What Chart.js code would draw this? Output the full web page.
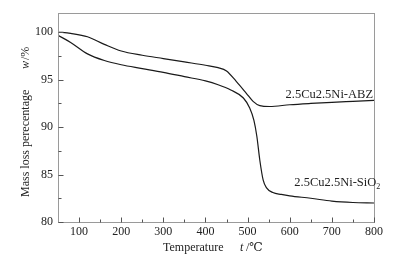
<!DOCTYPE html>
<html>
<head>
<meta charset="utf-8">
<script src="https://cdn.jsdelivr.net/npm/chart.js@4/dist/chart.umd.min.js"></script>
<style>
  html, body { margin: 0; padding: 0; background: #fff; }
  #wrap { width: 407px; height: 262px; }
</style>
</head>
<body>
<div id="wrap"><canvas id="tgChart" width="407" height="262"></canvas></div>
<script>
// temperatures (°C) and weight (%)
const abzTemp = [50, 80, 120, 160, 200, 250, 300, 350, 400, 430, 450, 473, 497, 513, 529, 552, 600, 650, 700, 750, 800];
const abzWt   = [100.0, 99.85, 99.5, 98.7, 98.0, 97.55, 97.2, 96.85, 96.5, 96.25, 95.9, 94.8, 93.55, 92.7, 92.25, 92.16, 92.34, 92.48, 92.6, 92.7, 92.8];

const sioTemp = [50, 80, 120, 160, 200, 250, 300, 350, 400, 430, 460, 490, 505, 515, 522, 529, 537, 545, 560, 580, 600, 650, 700, 750, 800];
const sioWt   = [99.65, 98.9, 97.7, 97.0, 96.55, 96.15, 95.75, 95.3, 94.85, 94.45, 93.9, 93.05, 92.0, 90.7, 89.0, 86.5, 84.4, 83.6, 83.1, 82.9, 82.75, 82.5, 82.2, 82.05, 82.0];

const xTicks = [100, 200, 300, 400, 500, 600, 700, 800];
const xMinor = [150, 250, 350, 450, 550, 650, 750];
const yTicks = [80, 85, 90, 95, 100];
const yMinor = [82.5, 87.5, 92.5, 97.5];

const toPts = (xs, ys) => xs.map((x, i) => ({ x: x, y: ys[i] }));

const serif = "'Liberation Serif', 'DejaVu Serif', serif";

const decor = {
  id: 'decor',
  afterDraw(chart) {
    const ctx = chart.ctx;
    const a = chart.chartArea;
    const xs = chart.scales.x, ys = chart.scales.y;
    ctx.save();
    // frame
    ctx.strokeStyle = '#9a9a9a';
    ctx.lineWidth = 1;
    ctx.strokeRect(Math.round(a.left) + 0.5, Math.round(a.top) + 0.5,
                   Math.round(a.right - a.left), Math.round(a.bottom - a.top));
    // inward ticks
    ctx.strokeStyle = '#555';
    ctx.beginPath();
    const bx = Math.round(a.bottom) + 0.5;
    xTicks.forEach(v => { const p = Math.round(xs.getPixelForValue(v)) + 0.5; ctx.moveTo(p, bx); ctx.lineTo(p, bx - 5); });
    xMinor.forEach(v => { const p = Math.round(xs.getPixelForValue(v)) + 0.5; ctx.moveTo(p, bx); ctx.lineTo(p, bx - 3); });
    const lx = Math.round(a.left) + 0.5;
    yTicks.forEach(v => { const p = Math.round(ys.getPixelForValue(v)) + 0.5; ctx.moveTo(lx, p); ctx.lineTo(lx + 5, p); });
    yMinor.forEach(v => { const p = Math.round(ys.getPixelForValue(v)) + 0.5; ctx.moveTo(lx, p); ctx.lineTo(lx + 3, p); });
    ctx.stroke();

    // curve labels
    ctx.fillStyle = '#222';
    ctx.textBaseline = 'middle';
    ctx.textAlign = 'left';
    ctx.font = '12.5px ' + serif;
    ctx.fillText('2.5Cu2.5Ni-ABZ', xs.getPixelForValue(590), ys.getPixelForValue(93.45));
    const sx = xs.getPixelForValue(611), sy = ys.getPixelForValue(84.1);
    const main = '2.5Cu2.5Ni-SiO';
    ctx.fillText(main, sx, sy);
    const w = ctx.measureText(main).width;
    ctx.font = '8px ' + serif;
    ctx.fillText('2', sx + w, sy + 4);

    // x title
    ctx.font = '12px ' + serif;
    ctx.fillText('Temperature', 163, 248);
    ctx.font = 'italic 12px ' + serif;
    ctx.fillText('t', 240, 248);
    ctx.font = '12px ' + serif;
    ctx.fillText(' /\u2103', 243, 248);

    // y title (rotated)
    ctx.translate(26, 197);
    ctx.rotate(-Math.PI / 2);
    ctx.font = '12px ' + serif;
    ctx.fillText('Mass loss perecentage', 0, 0);
    ctx.font = 'italic 12px ' + serif;
    ctx.fillText('w', 128, 0);
    ctx.font = '12px ' + serif;
    ctx.fillText('/%', 137, 0);
    ctx.restore();
  }
};

new Chart(document.getElementById('tgChart').getContext('2d'), {
  type: 'line',
  data: {
    datasets: [
      {
        label: '2.5Cu2.5Ni-ABZ',
        data: toPts(abzTemp, abzWt),
        borderColor: '#1a1a1a',
        borderWidth: 1.2,
        pointRadius: 0,
        cubicInterpolationMode: 'monotone',
        fill: false
      },
      {
        label: '2.5Cu2.5Ni-SiO2',
        data: toPts(sioTemp, sioWt),
        borderColor: '#1a1a1a',
        borderWidth: 1.2,
        pointRadius: 0,
        cubicInterpolationMode: 'monotone',
        fill: false
      }
    ]
  },
  options: {
    responsive: false,
    animation: false,
    layout: { padding: { left: 0, right: 33, top: 13, bottom: 0 } },
    plugins: { legend: { display: false }, tooltip: { enabled: false } },
    scales: {
      x: {
        type: 'linear',
        min: 50,
        max: 800,
        grid: { display: false, drawTicks: false },
        border: { display: false },
        afterBuildTicks: (s) => { s.ticks = xTicks.map(v => ({ value: v })); },
        afterFit: (s) => { s.height = 40; },
        ticks: { padding: 3, color: '#222', font: { family: serif, size: 12 } }
      },
      y: {
        type: 'linear',
        min: 80,
        max: 102,
        grid: { display: false, drawTicks: false },
        border: { display: false },
        afterBuildTicks: (s) => { s.ticks = yTicks.map(v => ({ value: v })); },
        afterFit: (s) => { s.width = 58; },
        ticks: { padding: 5, color: '#222', font: { family: serif, size: 12 } }
      }
    }
  },
  plugins: [decor]
});
</script>
</body>
</html>
